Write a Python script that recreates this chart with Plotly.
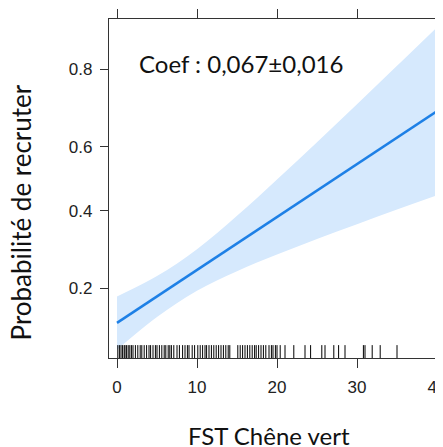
import numpy as np
import plotly.graph_objects as go

# Values (probabilities on a logit-scaled axis)
fst_x = [0, 5, 10, 15, 20, 25, 30, 35, 40]
prob_fit = [0.139, 0.184, 0.240, 0.306, 0.381, 0.463, 0.546, 0.627, 0.702]
prob_high = [0.184, 0.226, 0.291, 0.385, 0.498, 0.614, 0.720, 0.807, 0.872]
prob_low = [0.103, 0.148, 0.195, 0.237, 0.277, 0.318, 0.360, 0.404, 0.448]

rug_fst = [0.1, 0.3, 0.5, 0.7, 0.9, 1.0, 1.2, 1.4, 1.6, 1.8, 2.0, 2.3, 2.6, 2.9,
           3.1, 3.4, 3.7, 4.0, 4.2, 4.5, 4.8, 5.0, 5.3, 5.6, 5.9, 6.1, 6.4, 6.6,
           6.8, 7.1, 7.5, 7.8, 8.2, 8.5, 8.8, 9.0, 9.4, 9.7, 10.1, 10.4, 10.7,
           11.0, 11.2, 11.5, 11.8, 12.1, 12.4, 12.7, 13.0, 13.3, 13.6, 13.9, 14.1,
           15.1, 15.4, 15.7, 16.0, 16.3, 16.6, 16.9, 17.2, 17.4, 17.7, 18.0, 18.3,
           18.6, 19.0, 19.3, 19.5, 19.8, 20.0, 20.4, 21.0, 22.1, 23.5, 24.2, 25.6,
           26.0, 27.1, 27.7, 28.5, 30.8, 31.0, 31.9, 32.9, 35.0]

y_tick_probs = [0.2, 0.4, 0.6, 0.8]
y_tick_labels = ["0.2", "0.4", "0.6", "0.8"]
x_tick_vals = [0, 10, 20, 30, 40]
coef_text = "Coef : 0,067±0,016"
x_title = "FST Chêne vert"
y_title = "Probabilité de recruter"


def logit(p):
    p = np.asarray(p, dtype=float)
    return np.log(p / (1 - p))


fig = go.Figure()
fig.add_trace(go.Scatter(x=fst_x, y=logit(prob_low), mode="lines",
                         line=dict(width=0, shape="spline"), hoverinfo="skip",
                         showlegend=False))
fig.add_trace(go.Scatter(x=fst_x, y=logit(prob_high), mode="lines",
                         line=dict(width=0, shape="spline"), fill="tonexty",
                         fillcolor="rgb(214,233,253)", hoverinfo="skip",
                         showlegend=False))
fig.add_trace(go.Scatter(x=fst_x, y=logit(prob_fit), mode="lines",
                         line=dict(color="rgb(30,128,230)", width=2.5),
                         showlegend=False))

for v in rug_fst:
    fig.add_shape(type="line", xref="x", yref="paper", x0=v, x1=v, y0=0, y1=0.038,
                  line=dict(color="black", width=1))

tick_font = dict(family="Liberation Sans, Arial", size=17, color="#222")
title_font = dict(family="Lato, Open Sans", size=24, color="#111")
ytitle_font = dict(family="Lato, Open Sans", size=26, color="#111")

# The page body adds an 8px offset, so the figure is shifted by -8px.
fig.update_layout(
    width=435, height=439,
    margin=dict(l=101, r=0, t=11, b=89, autoexpand=False),
    paper_bgcolor="white", plot_bgcolor="white",
    xaxis=dict(range=[-1, 40.75], tickvals=x_tick_vals, ticks="outside", ticklen=9,
               tickwidth=1.3, tickcolor="#333", showline=True, linecolor="#333",
               linewidth=1.3, mirror="ticks", showgrid=False, zeroline=False,
               tickfont=tick_font, ticklabelstandoff=4, automargin=False,
               ticklabeloverflow="allow"),
    yaxis=dict(range=[-2.268, 2.023], tickvals=list(logit(y_tick_probs)),
               ticktext=y_tick_labels, ticks="outside", ticklen=8, tickwidth=1.3,
               tickcolor="#333", showline=True, linecolor="#333", linewidth=1.3,
               showgrid=False, zeroline=False, tickfont=tick_font,
               ticklabelstandoff=4, automargin=False),
    annotations=[
        dict(text=coef_text, xref="paper", yref="paper", x=0.0838, y=0.870,
             xanchor="left", yanchor="middle", showarrow=False, font=title_font),
        dict(text=x_title, xref="paper", yref="paper", x=0.479, y=-0.228,
             xanchor="center", yanchor="middle", showarrow=False, font=title_font),
        dict(text=y_title, xref="paper", yref="paper", x=-0.262, y=0.4307,
             xanchor="center", yanchor="middle", textangle=-90, showarrow=False,
             font=ytitle_font),
    ],
)

fig.write_html("out.html")
